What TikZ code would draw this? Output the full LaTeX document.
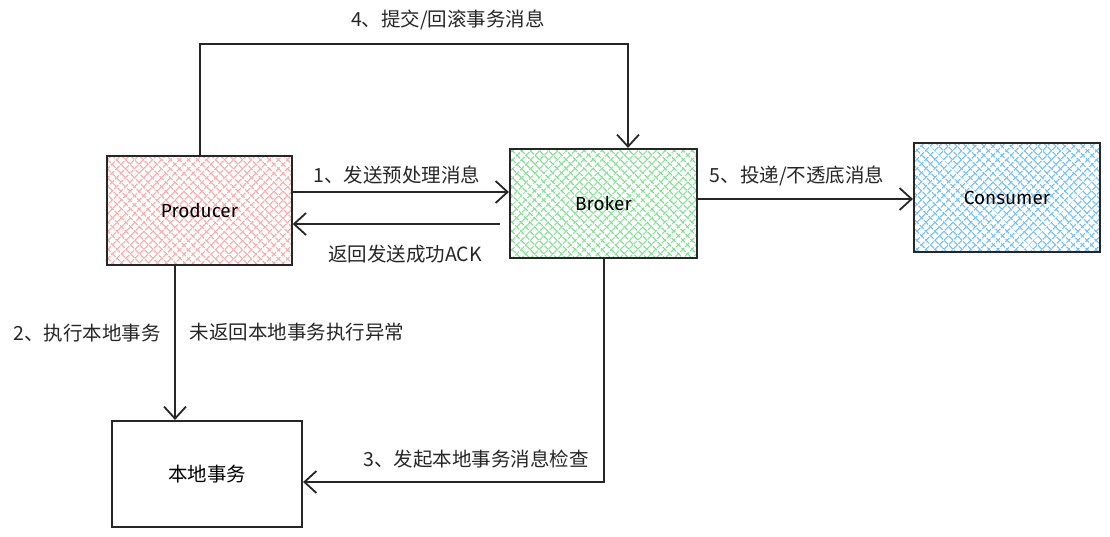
\documentclass[tikz,border=0pt]{standalone}
\usepackage{fontspec}
\setmainfont{Noto Sans CJK SC}
\newfontfamily\latinhand{Fira Sans}
\usetikzlibrary{arrows.meta,patterns.meta}
\definecolor{hred}{HTML}{FFA8A8}
\definecolor{hgreen}{HTML}{7EE08E}
\definecolor{hblue}{HTML}{74C0FC}
\tikzset{
  box/.style={draw=black!85, line width=2.2pt, minimum width=185pt, minimum height=109pt, inner sep=0pt, font=\latinhand\fontsize{19}{22}\selectfont},
  hatch/.style={preaction={pattern={Lines[angle=45,distance=6.5pt,line width=1.4pt]}, pattern color=#1},
                pattern={Lines[angle=-45,distance=6.5pt,line width=1.4pt]}, pattern color=#1},
  arr/.style={draw=black!85, line width=1.8pt, -{Straight Barb[length=12pt,width=22pt,line width=1.8pt]}},
  lbl/.style={font=\fontsize{19.5}{22}\selectfont, inner sep=1pt, text=black!85}
}
\begin{document}
\begin{tikzpicture}[x=1pt,y=-1pt]
\useasboundingbox (0,0) rectangle (1110,536);
\node[box, hatch=hred] (prod) at (199.5,210.5) {Producer};
\node[box, hatch=hgreen, minimum width=187pt] (broker) at (603.5,203.5) {Broker};
\node[box, hatch=hblue, minimum width=186pt] (cons) at (1007,197.5) {Consumer};
\node[box, minimum width=190pt, minimum height=106pt, font=\fontsize{19.5}{22}\selectfont] (local) at (207,474) {本地事务};

\coordinate (c4a) at (200,44);
\coordinate (c4b) at (628,44);
\draw[arr] (prod.north -| c4a) -- (c4a) -- (c4b) -- (broker.north -| c4b);
\node[lbl] (l4) at (448,20) {4、提交/回滚事务消息};

\coordinate (y1) at (0,192);
\draw[arr] (prod.east |- y1) -- (broker.west |- y1);
\node[lbl] (l1) at (397,175) {1、发送预处理消息};

\coordinate (y2) at (500,224);
\draw[arr] (y2) -- (prod.east |- y2);
\node[lbl] (l2b) at (405,254) {返回发送成功\textit{ACK}};

\coordinate (y5) at (0,199);
\draw[arr] (broker.east |- y5) -- (cons.west |- y5);
\node[lbl] (l5) at (797,176) {5、投递/不透底消息};

\coordinate (x2) at (175,0);
\draw[arr] (prod.south -| x2) -- (local.north -| x2);
\node[lbl] (l2) at (87,333) {2、执行本地事务};
\node[lbl] (l2n) at (297,332) {未返回本地事务执行异常};

\coordinate (c3) at (604,482);
\draw[arr] (broker.south -| c3) -- (c3) -- (local.east |- c3);
\node[lbl] (l3) at (476,459) {3、发起本地事务消息检查};
\end{tikzpicture}
\end{document}
